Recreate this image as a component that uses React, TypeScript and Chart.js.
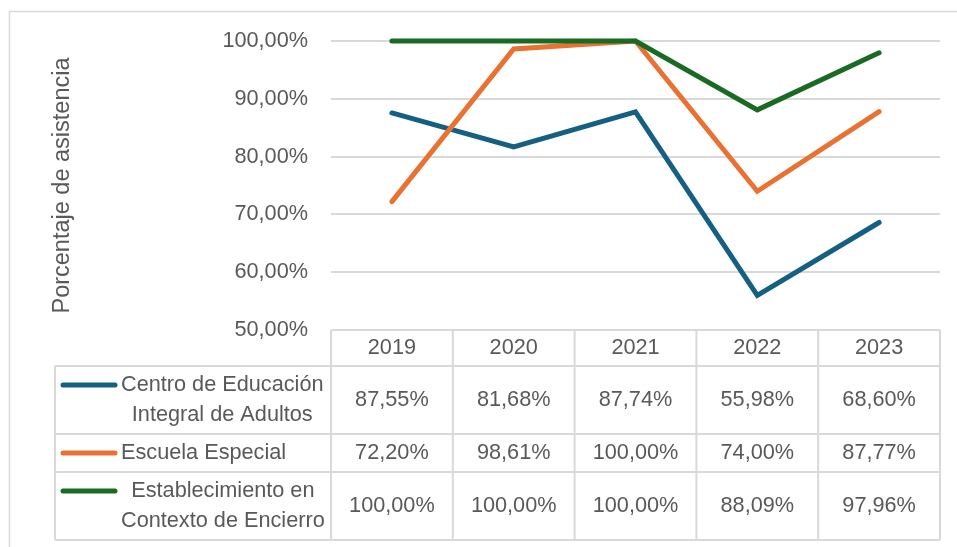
import React, { useEffect, useRef } from "react";
import { Chart, registerables } from "chart.js";

Chart.register(...registerables);

const years = ["2019", "2020", "2021", "2022", "2023"];
const centroValues = [87.55, 81.68, 87.74, 55.98, 68.6];
const escuelaValues = [72.2, 98.61, 100.0, 74.0, 87.77];
const establecimientoValues = [100.0, 100.0, 100.0, 88.09, 97.96];

const centroLabel = ["Centro de Educación", "Integral de Adultos"];
const escuelaLabel = ["Escuela Especial"];
const establecimientoLabel = ["Establecimiento en", "Contexto de Encierro"];

const yAxisTitle = "Porcentaje de asistencia";
const yMin = 50;
const yMax = 100;
const yStep = 10;

const BLUE = "#156082";
const ORANGE = "#E97132";
const GREEN = "#196B24";
const TEXT = "#595959";
const GRID = "#d9d9d9";
const FONT_FAMILY = "'Liberation Sans', Arial, sans-serif";
const FONT_SIZE = 21.7;

const fmt = (v: number) => v.toFixed(2).replace(".", ",") + "%";

const tableRows = [
  { label: centroLabel, values: centroValues, color: BLUE, height: 68 },
  { label: escuelaLabel, values: escuelaValues, color: ORANGE, height: 38 },
  { label: establecimientoLabel, values: establecimientoValues, color: GREEN, height: 68 },
];

const tablePlugin = {
  id: "dataTable",
  afterDraw(chart: any) {
    const ctx = chart.ctx;
    const area = chart.chartArea;
    const xs = chart.scales.x;
    const n = years.length;
    const colW = (area.right - area.left) / n;
    const headerTop = area.bottom;
    const headerH = 36;
    const tableLeft = 55;
    const lineSpacing = 30;

    ctx.save();
    // outer chart border
    ctx.strokeStyle = GRID;
    ctx.lineWidth = 1.5;
    ctx.strokeRect(9.5, 11.5, 2000, 2000);

    ctx.lineWidth = 2;
    ctx.strokeStyle = GRID;
    let y = headerTop + headerH;
    const rowTops: number[] = [];
    for (const r of tableRows) {
      rowTops.push(y);
      y += r.height;
    }
    const tableBottom = y;
    ctx.beginPath();
    ctx.moveTo(area.left, headerTop);
    ctx.lineTo(area.right, headerTop);
    for (const t of rowTops) {
      ctx.moveTo(tableLeft, t);
      ctx.lineTo(area.right, t);
    }
    ctx.moveTo(tableLeft, tableBottom);
    ctx.lineTo(area.right, tableBottom);
    for (let i = 0; i <= n; i++) {
      const x = area.left + i * colW;
      ctx.moveTo(x, headerTop);
      ctx.lineTo(x, tableBottom);
    }
    ctx.moveTo(tableLeft, headerTop + headerH);
    ctx.lineTo(tableLeft, tableBottom);
    ctx.stroke();

    ctx.fillStyle = TEXT;
    ctx.font = `${FONT_SIZE}px ${FONT_FAMILY}`;
    ctx.textBaseline = "middle";
    ctx.textAlign = "center";
    years.forEach((yr, i) => {
      ctx.fillText(yr, xs.getPixelForValue(i), headerTop + headerH / 2);
    });
    tableRows.forEach((r, ri) => {
      const top = rowTops[ri];
      const cy = top + r.height / 2;
      r.values.forEach((v, i) => {
        ctx.textAlign = "center";
        ctx.fillText(fmt(v), xs.getPixelForValue(i), cy);
      });
      const nLines = r.label.length;
      const firstY = cy - ((nLines - 1) * lineSpacing) / 2;
      ctx.beginPath();
      ctx.strokeStyle = r.color;
      ctx.lineWidth = 5;
      ctx.lineCap = "round";
      ctx.moveTo(63, firstY);
      ctx.lineTo(115, firstY);
      ctx.stroke();
      const blockLeft = 121;
      const blockW = Math.max(...r.label.map((s) => ctx.measureText(s).width));
      r.label.forEach((s, li) => {
        ctx.textAlign = "center";
        ctx.fillText(s, blockLeft + blockW / 2, firstY + li * lineSpacing);
      });
    });
    ctx.restore();
  },
};

export default function App() {
  const ref = useRef<HTMLCanvasElement | null>(null);
  useEffect(() => {
    if (!ref.current) return;
    const chart = new Chart(ref.current, {
      type: "line",
      data: {
        labels: years,
        datasets: [
          {
            label: centroLabel.join(" "),
            data: centroValues,
            borderColor: BLUE,
            backgroundColor: BLUE,
            borderWidth: 5,
            pointRadius: 0,
            order: 2,
          },
          {
            label: escuelaLabel.join(" "),
            data: escuelaValues,
            borderColor: ORANGE,
            backgroundColor: ORANGE,
            borderWidth: 5,
            pointRadius: 0,
            order: 1,
          },
          {
            label: establecimientoLabel.join(" "),
            data: establecimientoValues,
            borderColor: GREEN,
            backgroundColor: GREEN,
            borderWidth: 5,
            pointRadius: 0,
            order: 0,
          },
        ],
      },
      options: {
        animation: false,
        responsive: true,
        maintainAspectRatio: false,
        clip: false as any,
        layout: { padding: { left: 0, top: 41, right: 17, bottom: 217 } },
        elements: { line: { borderCapStyle: "round", borderJoinStyle: "miter", tension: 0 } },
        plugins: { legend: { display: false }, tooltip: { enabled: false } },
        scales: {
          x: {
            type: "category",
            offset: true,
            display: false,
          },
          y: {
            min: yMin,
            max: yMax,
            afterFit: (s: any) => {
              s.width = 331;
            },
            ticks: {
              stepSize: yStep,
              color: TEXT,
              padding: 23,
              font: { size: FONT_SIZE, family: FONT_FAMILY },
              callback: (v: any) => fmt(Number(v)),
            },
            grid: { color: GRID, lineWidth: 2, drawTicks: false },
            border: { display: false },
            title: {
              display: true,
              text: yAxisTitle,
              color: TEXT,
              font: { size: 23.5, family: FONT_FAMILY },
              padding: { top: 48, bottom: 0 },
            },
          },
        },
      },
      plugins: [tablePlugin],
    });
    return () => chart.destroy();
  }, []);
  return (
    <div style={{ position: "fixed", left: 0, top: 0, width: 957, height: 547, background: "#fff" }}>
      <canvas ref={ref} />
    </div>
  );
}
